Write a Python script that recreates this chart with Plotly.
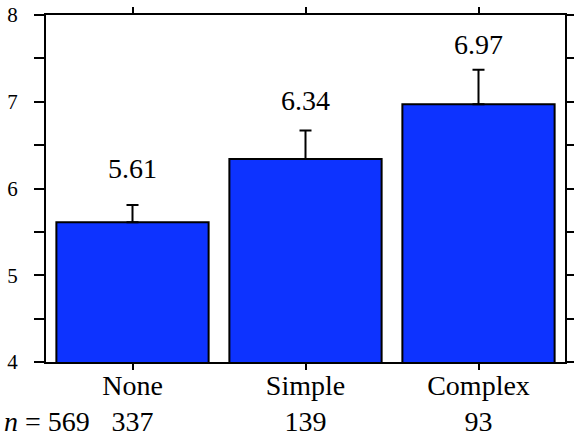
import plotly.graph_objects as go

categories = ["None", "Simple", "Complex"]
means = [5.61, 6.34, 6.97]
err_plus = [0.20, 0.33, 0.40]
counts = [337, 139, 93]
total_n = 569
value_labels = ["5.61", "6.34", "6.97"]

# styling: pixel lift of each value label above its bar top
label_lift_px = [36, 41, 42]

FONT = "Liberation Serif"
BLUE = "#0D33FF"

fig = go.Figure()
fig.add_trace(go.Bar(
    x=categories, y=means, width=0.88,
    marker=dict(color=BLUE, line=dict(color="black", width=2)),
    error_y=dict(type="data", symmetric=False, array=err_plus,
                 arrayminus=[0] * len(means), color="black",
                 thickness=2, width=6),
))

for c, m, lab, lift in zip(categories, means, value_labels, label_lift_px):
    fig.add_annotation(x=c, y=m, text=lab, showarrow=False, xref="x", yref="y",
                       yanchor="bottom", yshift=lift,
                       font=dict(family=FONT, size=28, color="black"))

fig.add_annotation(xref="paper", yref="paper", x=0.0886, y=0, yshift=-59,
                   xanchor="right", yanchor="middle",
                   text="<i>n</i> = %d" % total_n, showarrow=False,
                   font=dict(family=FONT, size=28, color="black"))

yvals = [4 + 0.5 * i for i in range(9)]
ytext = [str(int(v)) if v == int(v) else "" for v in yvals]

fig.update_layout(
    width=574, height=437,
    margin=dict(l=46, r=9, t=15, b=75, autoexpand=False),
    plot_bgcolor="white", paper_bgcolor="white",
    showlegend=False,
    font=dict(family=FONT, color="black"),
    bargap=0.12,
)
fig.update_xaxes(
    tickvals=categories,
    ticktext=["%s<br>%d" % (c, n) for c, n in zip(categories, counts)],
    range=[-0.5, 2.5], automargin=False,
    showline=True, linewidth=2, linecolor="black", mirror="ticks",
    ticks="outside", ticklen=6, tickwidth=2, tickcolor="black",
    tickfont=dict(family=FONT, size=28, color="black"),
    ticklabelstandoff=-9,
    showgrid=False, zeroline=False,
)
fig.update_yaxes(
    range=[4, 8], tickvals=yvals, ticktext=ytext, automargin=False,
    showline=True, linewidth=2, linecolor="black", mirror="ticks",
    ticks="outside", ticklen=10, tickwidth=2, tickcolor="black",
    tickfont=dict(family=FONT, size=21, color="black"),
    ticklabelstandoff=12,
    showgrid=False, zeroline=False,
)

fig.write_html("out.html", config={"displayModeBar": False},
               post_script="document.body.style.margin='0';")
